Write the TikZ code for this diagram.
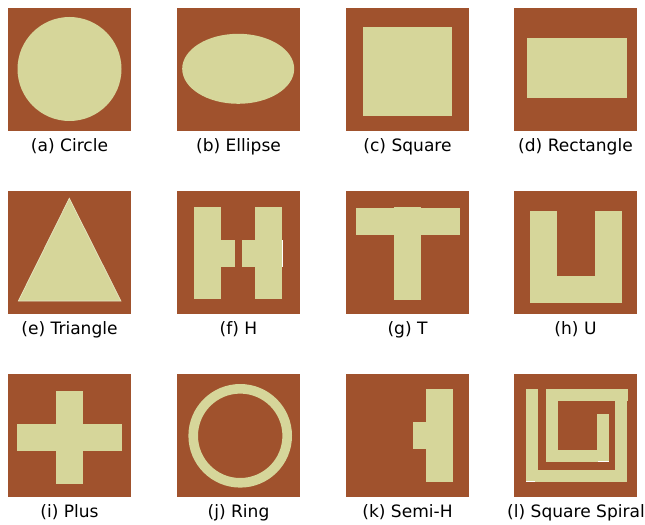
\documentclass[tikz,border=0pt]{standalone}
\usepackage{fontspec}
\setmainfont{DejaVu Sans}
\usetikzlibrary{positioning}
\definecolor{board}{RGB}{160,82,45}
\definecolor{metal}{RGB}{214,214,154}

\begin{document}
\begin{tikzpicture}[x=0.75pt, y=-0.75pt,
    sub/.style={fill=board},
    patch/.style={fill=metal},
    sliver/.style={draw=white, line width=0.75pt},
    subcap/.style={font=\fontsize{12.8}{15}\selectfont, anchor=base}]
        \useasboundingbox (0,0) rectangle (645,524);
        % substrates
        \foreach \cx in {8,177,346,514}
          \foreach \cy in {8,191,374}
            \fill[sub] (\cx,\cy) rectangle ++(123,123);
        % (a) circle
        \begin{scope}[shift={(8,8)}]
          \fill[patch] (61.5,61) circle (52);
        \end{scope}
        % (b) ellipse
        \begin{scope}[shift={(177,8)}]
          \fill[patch] (61.2,60.8) ellipse [x radius=56, y radius=35];
        \end{scope}
        % (c) square
        \begin{scope}[shift={(346,8)}]
          \fill[patch] (17,19) rectangle (106,108);
        \end{scope}
        % (d) rectangle
        \begin{scope}[shift={(514,8)}]
          \fill[patch] (13,30) rectangle (113,90);
        \end{scope}
        % (e) triangle
        \begin{scope}[shift={(8,191)}]
          \filldraw[patch, draw=metal!60!white, line width=0.5pt] (61.3,7.3) -- (10.3,110) -- (113,110) -- cycle;
        \end{scope}
        % (f) H
        \begin{scope}[shift={(177,191)}]
          \fill[patch] (17,16) rectangle (43.7,108);
          \fill[patch] (78,16) rectangle (105,108);
          \fill[patch] (43.7,49) rectangle (58,76);
          \fill[patch] (65,49) rectangle (78,76);
          \draw[sliver] (105.6,49) -- (105.6,76);
        \end{scope}
        % (g) T
        \begin{scope}[shift={(346,191)}]
          \fill[patch] (10,17) rectangle (113.7,43.7);
          \fill[patch] (48,16) rectangle (75,108.7);
        \end{scope}
        % (h) U
        \begin{scope}[shift={(514,191)}]
          \fill[patch] (16.3,20) rectangle (43,112);
          \fill[patch] (81,20) rectangle (108,112);
          \fill[patch] (43,85) rectangle (81,112);
        \end{scope}
        % (i) plus
        \begin{scope}[shift={(8,374)}]
          \fill[patch] (9,50) rectangle (114,76.7);
          \fill[patch] (48,16.7) rectangle (75,110);
        \end{scope}
        % (j) ring
        \begin{scope}[shift={(177,374)}]
          \fill[patch, even odd rule] (63.2,61.8) circle (51.8) (63.2,61.8) circle (42.2);
        \end{scope}
        % (k) semi-H
        \begin{scope}[shift={(346,374)}]
          \fill[patch] (80,15) rectangle (107,108);
          \fill[patch] (67,48) rectangle (80,74.7);
        \end{scope}
        % (l) square spiral
        \begin{scope}[shift={(514,374)}]
          \fill[patch] (12,15) rectangle (23.7,107.7);
          \fill[patch] (21.3,96) rectangle (113,107.7);
          \fill[patch] (101,26.7) rectangle (113,107.7);
          \fill[patch] (32,15) rectangle (114,26.7);
          \fill[patch] (32,15) rectangle (43.7,88);
          \fill[patch] (32,76) rectangle (95,88);
          \fill[patch] (83,40) rectangle (95,88);
          \draw[sliver] (84,87.6) -- (95,87.6);
          \draw[sliver] (12,107.6) -- (21,107.6);
        \end{scope}
        % captions
        \node[subcap] (capA) at (69.5,151.5) {(a) Circle};
        \node[subcap] (capB) at (238.5,151.5) {(b) Ellipse};
        \node[subcap] (capC) at (407.5,151.5) {(c) Square};
        \node[subcap] (capD) at (575.5,151.5) {(d) Rectangle};
        \node[subcap] (capE) at (69.5,334.5) {(e) Triangle};
        \node[subcap] (capF) at (238.5,334.5) {(f) H};
        \node[subcap] (capG) at (407.5,334.5) {(g) T};
        \node[subcap] (capH) at (575.5,334.5) {(h) U};
        \node[subcap] (capI) at (69.5,517.5) {(i) Plus};
        \node[subcap] (capJ) at (238.5,517.5) {(j) Ring};
        \node[subcap] (capK) at (407.5,517.5) {(k) Semi-H};
        \node[subcap] (capL) at (576,517.5) {(l) Square Spiral};
      \end{tikzpicture}
\end{document}
